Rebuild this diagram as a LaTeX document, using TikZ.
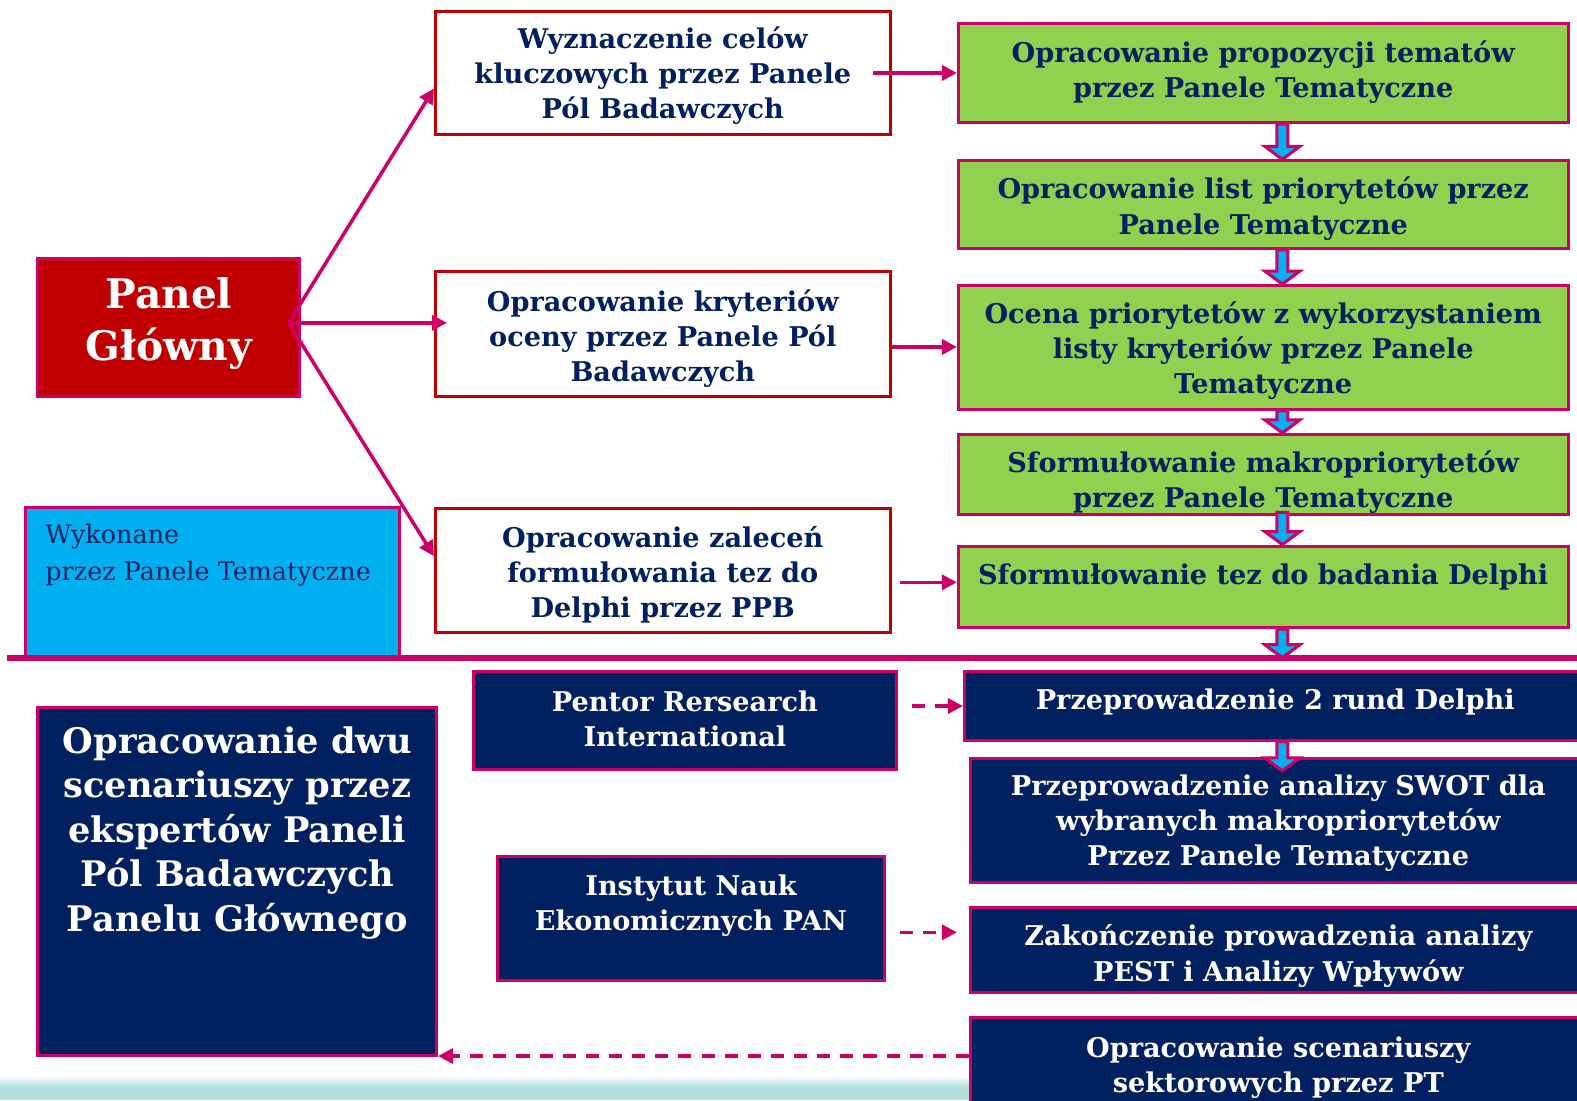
\documentclass[tikz,border=0pt]{standalone}
\usepackage{fontspec}
\setmainfont{DejaVu Serif}
\usetikzlibrary{arrows.meta,fit,calc}

\definecolor{mag}{RGB}{204,0,102}
\definecolor{navy}{RGB}{0,32,96}
\definecolor{darkred}{RGB}{192,0,0}
\definecolor{leaf}{RGB}{146,208,80}
\definecolor{sky}{RGB}{0,176,240}
\definecolor{tealband}{RGB}{178,223,219}

% block arrow (cyan body, magenta outline) running straight down from #1 to #2
\newcommand\blockarrow[2]{%
  \path[blk] let \p1=(#1), \p2=(#2) in
    (\x1-5.5pt,\y1) -- (\x1-5.5pt,\y2+13pt) -- (\x1-17.5pt,\y2+13pt) -- (\x1,\y2)
    -- (\x1+17.5pt,\y2+13pt) -- (\x1+5.5pt,\y2+13pt) -- (\x1+5.5pt,\y1) -- cycle;}

\begin{document}
\begin{tikzpicture}[x=1pt,y=-1pt,
  box/.style={inner sep=0pt, line width=3pt},
  wbox/.style={box, draw=darkred, fill=white},
  gbox/.style={box, draw=mag, fill=leaf},
  nbox/.style={box, draw=mag, fill=navy},
  txt/.style={align=center, inner sep=0pt, text=navy,
    font=\bfseries\fontsize{27}{35}\selectfont},
  wtxt/.style={txt, text=white},
  link/.style={draw=mag, line width=3.5pt, -{Triangle[length=15pt,width=15pt]}},
  dlink/.style={link, dash pattern=on 13pt off 10pt},
  blk/.style={draw=mag, fill=sky, line width=3pt, line join=miter}]

\useasboundingbox (0,0) rectangle (1568,1094);

% light band along the lower edge
\shade[top color=white, bottom color=tealband] (0,1070) rectangle (970,1080);
\fill[tealband] (0,1080) rectangle (970,1094);

% ---------- upper part ----------
\node[box, draw=mag, fill=darkred, fit={(37,257) (298,394)}] (pg) {};
\node[wtxt, font=\bfseries\fontsize{40.5}{52}\selectfont] (pgt) at (168,322) {Panel\\Główny};
\coordinate (notch) at (287,321);

\node[wbox, fit={(433,11) (885,134)}] (w1) {};
\node[wbox, fit={(433,270) (885,394)}] (w2) {};
\node[wbox, fit={(433,506) (885,629)}] (w3) {};
\node[txt] (w1t) at (659,75.5) {Wyznaczenie celów\\kluczowych przez Panele\\Pól Badawczych};
\node[txt] (w2t) at (659,336.5) {Opracowanie kryteriów\\oceny przez Panele Pól\\Badawczych};
\node[txt] (w3t) at (659,571.5) {Opracowanie zaleceń\\formułowania tez do\\Delphi przez PPB};

\node[box, draw=mag, fill=sky, fit={(25,505) (397,654)}] (done) {};
\node[anchor=west, align=left, inner sep=0pt, text=navy,
  font=\fontsize{25.3}{37}\selectfont] (donet) at (45,552) {Wykonane\\przez Panele Tematyczne};

\node[gbox, fit={(953,23) (1560,122)}] (g1) {};
\node[gbox, fit={(953,160) (1560,247)}] (g2) {};
\node[gbox, fit={(953,284) (1560,407)}] (g3) {};
\node[gbox, fit={(953,432) (1560,512)}] (g4) {};
\node[gbox, fit={(953,543) (1560,624)}] (g5) {};
\node[txt] (g1t) at (1256,72) {Opracowanie propozycji tematów\\przez Panele Tematyczne};
\node[txt] (g2t) at (1256,207.5) {Opracowanie list priorytetów przez\\Panele Tematyczne};
\node[txt] (g3t) at (1256,348.5) {Ocena priorytetów z wykorzystaniem\\listy kryteriów przez Panele\\Tematyczne};
\node[txt] (g4t) at (1256,479.5) {Sformułowanie makropriorytetów\\przez Panele Tematyczne};
\node[txt] (g5t) at (1256,574) {Sformułowanie tez do badania Delphi};

% separator between the two stages
\coordinate (sepL) at (7,654);
\coordinate (sepR) at (1568,654);
\draw[mag, line width=6pt] (sepL) -- (sepR);

% ---------- lower part ----------
\node[nbox, fit={(471,668) (891,765)}] (pent) {};
\node[nbox, fit={(495,852) (879,975)}] (inst) {};
\node[nbox, fit={(37,703) (434,1049)}] (big) {};
\node[nbox, fit={(959,668) (1580,736)}] (d1) {};
\node[nbox, fit={(965,754) (1580,877)}] (d2) {};
\node[nbox, fit={(965,902) (1580,987)}] (d3) {};
\node[nbox, fit={(965,1012) (1580,1110)}] (d4) {};

\node[wtxt] (pentt) at (681,714.5) {Pentor Rersearch\\International};
\node[wtxt] (instt) at (687,900.5) {Instytut Nauk\\Ekonomicznych PAN};
\node[wtxt, font=\bfseries\fontsize{35}{44.3}\selectfont] (bigt) at (236,828)
  {Opracowanie dwu\\scenariuszy przez\\ekspertów Paneli\\Pól Badawczych\\Panelu Głównego};
\node[wtxt] (d1t) at (1268,698) {Przeprowadzenie 2 rund Delphi};
\node[wtxt] (d2t) at (1271,818.5) {Przeprowadzenie analizy SWOT dla\\wybranych makropriorytetów\\Przez Panele Tematyczne};
\node[wtxt] (d3t) at (1271,950.5) {Zakończenie prowadzenia analizy\\PEST i Analizy Wpływów};
\node[wtxt] (d4t) at (1271,1061.5) {Opracowanie scenariuszy\\sektorowych przez PT};

% ---------- connectors ----------
\draw[link] (notch) -- (w1.west |- 0,88);
\draw[link] (notch) -- ([xshift=13pt]w2.west |- 0,321);
\draw[link] (notch) -- (w3.west |- 0,553);

\draw[link] ([xshift=-18pt]w1.east |- g1.west) -- (g1.west);
\draw[link] (w2.east |- 0,345) -- (g3.west |- 0,345);
\draw[link] ([xshift=8pt]w3.east |- 0,579) -- (g5.west |- 0,579);

\coordinate (ax) at (1275,0);
\blockarrow{g1.south -| ax}{g2.north -| ax}
\blockarrow{g2.south -| ax}{g3.north -| ax}
\blockarrow{g3.south -| ax}{g4.north -| ax}
\blockarrow{[yshift=4pt]g4.south -| ax}{g5.north -| ax}
\blockarrow{g5.south -| ax}{sepL -| ax}
\blockarrow{d1.south -| ax}{[yshift=-14pt]d2.north -| ax}

\draw[dlink] ([xshift=14pt]pent.east |- d1.west) -- (d1.west);
\draw[dlink] ([xshift=14pt]inst.east |- 0,927) -- ([xshift=-12pt]d3.west |- 0,927);
\draw[dlink] (d4.west |- 0,1050) -- (big.east |- 0,1050);
\end{tikzpicture}
\end{document}
